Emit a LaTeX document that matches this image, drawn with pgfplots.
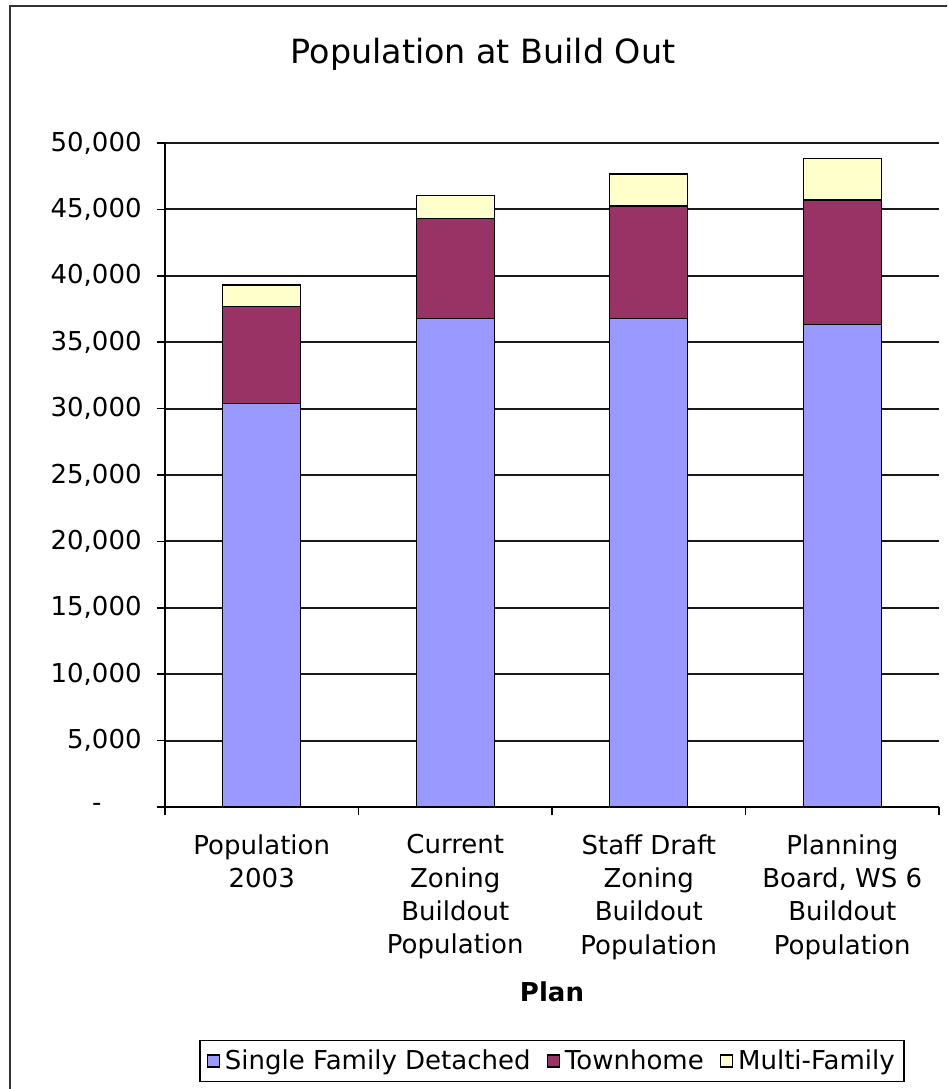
\documentclass[border=0pt]{standalone}
\usepackage{fontspec}
\setmainfont{DejaVu Sans}
\usepackage{pgfplots}
\pgfplotsset{compat=1.18}
\definecolor{sfd}{HTML}{9999FF}
\definecolor{th}{HTML}{993366}
\definecolor{mf}{HTML}{FFFFCC}
\begin{document}
\begin{tikzpicture}
\useasboundingbox (0,0) rectangle (947*0.75pt,-1089*0.75pt);
\clip (0,0) rectangle (947*0.75pt,-1089*0.75pt);
\draw[line width=1.5pt, black!80] (10*0.75pt,-1200*0.75pt) -- (10*0.75pt,-6*0.75pt) -- (1000*0.75pt,-6*0.75pt);
\node[font=\fontsize{25}{30}\selectfont] at (483*0.75pt,-54*0.75pt) {Population at Build Out};
\begin{axis}[
  at={(165*0.75pt,-807*0.75pt)}, anchor=south west,
  scale only axis, width=774*0.75pt, height=664*0.75pt,
  ybar stacked, bar width=0.403,
  xmin=-0.5, xmax=3.5, ymin=0, ymax=50000,
  scaled y ticks=false,
  axis x line=bottom, axis y line=left,
  axis line style={-, line width=1.3pt, black},
  ymajorgrids, major grid style={line width=1.4pt, black!90},
  tick align=outside, major tick length=6pt,
  tick style={line width=1.3pt, black},
  ytick={0,5000,10000,15000,20000,25000,30000,35000,40000,45000,50000},
  yticklabels={{-\kern30pt\null},{5,000},{10,000},{15,000},{20,000},{25,000},{30,000},{35,000},{40,000},{45,000},{50,000}},
  y tick label style={font=\fontsize{19.5}{24}\selectfont, xshift=-8pt},
  xtick={-0.5,0.5,1.5,2.5,3.5},
  xticklabels={},
  extra x ticks={0,1,2,3},
  extra x tick labels={{Population\\2003},{Current\\Zoning\\Buildout\\Population},{Staff Draft\\Zoning\\Buildout\\Population},{Planning\\Board, WS 6\\Buildout\\Population}},
  extra x tick style={tick style={draw=none}, major tick length=0pt},
  x tick label style={font=\fontsize{19.5}{25}\selectfont, align=center, anchor=north, yshift=-17pt},
  xlabel={Plan},
  xlabel style={font=\fontsize{19.5}{24}\selectfont\bfseries, at={(axis description cs:0.5,-0.2786)}, anchor=center},
  legend style={at={(0.5,-0.3825)}, anchor=center, legend columns=-1, draw=black, line width=1pt,
    font=\fontsize{19.5}{24}\selectfont, inner xsep=5pt, inner ysep=5pt,
    /tikz/every even column/.append style={column sep=10pt},
    /tikz/every odd column/.append style={column sep=2pt}},
  legend image code/.code={\draw[#1, draw=black, line width=0.8pt] (0pt,-4.5pt) rectangle (9pt,4.5pt);},
]
\addplot[fill=sfd, draw=black, line width=1pt] coordinates {(0,30400) (1,36800) (2,36800) (3,36350)};
\addplot[fill=th, draw=black, line width=1pt] coordinates {(0,7270) (1,7530) (2,8460) (3,9350)};
\addplot[fill=mf, draw=black, line width=1pt] coordinates {(0,1630) (1,1700) (2,2410) (3,3150)};
\legend{Single Family Detached,Townhome,Multi-Family}
\end{axis}
\end{tikzpicture}
\end{document}
